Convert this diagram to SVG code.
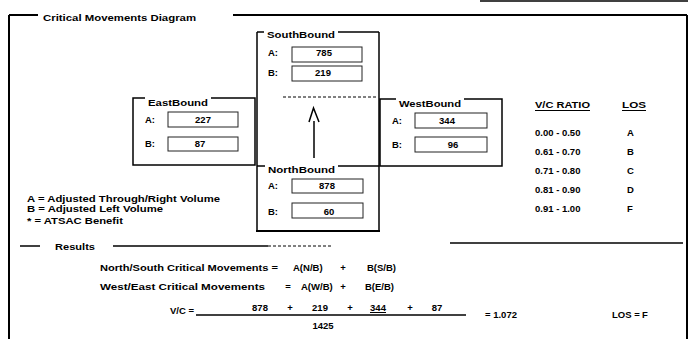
<svg xmlns="http://www.w3.org/2000/svg" width="697" height="339" viewBox="0 0 697 339">
<style>
text{font-family:"Liberation Sans",Arial,sans-serif;font-weight:bold;font-size:9.5px;fill:#000}
.ln{stroke:#000;stroke-width:1.5;fill:none}
.frm{stroke:#000;stroke-width:2;fill:none}
.box{stroke:#222;stroke-width:1;fill:none}
.dash{stroke:#000;stroke-width:1;stroke-dasharray:3 2;fill:none}
.mid{text-anchor:middle}
.bg{fill:#fff}
</style>
<rect width="697" height="339" fill="#fff"/>
<g id="frame">
<line class="frm" x1="9" y1="15" x2="9" y2="339"/>
<line class="frm" x1="9" y1="15" x2="38" y2="15"/>
<line class="frm" x1="233" y1="15" x2="687" y2="15"/>
<line class="frm" x1="687" y1="15" x2="687" y2="339"/>
<line class="ln" x1="480" y1="1" x2="688" y2="1"/>
<text x="43" y="21" textLength="153" lengthAdjust="spacingAndGlyphs">Critical Movements Diagram</text>
</g>
<g id="southbound">
<line class="ln" x1="257" y1="32" x2="379" y2="32"/>
<line class="ln" x1="257" y1="32" x2="257" y2="231"/>
<line class="ln" x1="379" y1="32" x2="379" y2="231"/>
<rect class="bg" x="264" y="29" width="74" height="10"/>
<text x="267" y="38" textLength="68" lengthAdjust="spacingAndGlyphs">SouthBound</text>
<text x="268" y="56">A:</text>
<rect class="box" x="292" y="47" width="70" height="15"/>
<text class="mid" x="324" y="56">785</text>
<text x="268" y="76">B:</text>
<rect class="box" x="292" y="66" width="70" height="15"/>
<text class="mid" x="323" y="76">219</text>
<line class="dash" x1="283" y1="97" x2="378" y2="97"/>
</g>
<g id="eastbound">
<rect class="ln" x="133" y="98" width="122" height="67"/>
<rect class="bg" x="145" y="95" width="66" height="10"/>
<text x="148" y="106" textLength="60" lengthAdjust="spacingAndGlyphs">EastBound</text>
<text x="145" y="123">A:</text>
<rect class="box" x="168" y="112" width="70" height="15"/>
<text class="mid" x="203" y="123">227</text>
<text x="145" y="147">B:</text>
<rect class="box" x="168" y="137" width="70" height="14"/>
<text class="mid" x="200" y="147">87</text>
</g>
<g id="westbound">
<rect class="ln" x="380" y="99" width="122" height="67"/>
<rect class="bg" x="396" y="96" width="68" height="10"/>
<text x="399" y="107" textLength="62" lengthAdjust="spacingAndGlyphs">WestBound</text>
<text x="392" y="124">A:</text>
<rect class="box" x="415" y="113" width="72" height="15"/>
<text class="mid" x="447" y="124">344</text>
<text x="392" y="148">B:</text>
<rect class="box" x="415" y="137" width="72" height="15"/>
<text class="mid" x="453" y="148">96</text>
</g>
<g id="northbound">
<line class="ln" x1="257" y1="166" x2="379" y2="166"/>
<line class="frm" x1="256" y1="231" x2="380" y2="231"/>
<rect class="bg" x="265" y="163" width="73" height="10"/>
<text x="268" y="173" textLength="67" lengthAdjust="spacingAndGlyphs">NorthBound</text>
<text x="268" y="189">A:</text>
<rect class="box" x="292" y="179" width="71" height="14"/>
<text class="mid" x="327" y="189">878</text>
<text x="268" y="215">B:</text>
<rect class="box" x="292" y="203" width="71" height="15"/>
<text class="mid" x="329" y="215">60</text>
</g>
<g id="connectors">
<line class="ln" x1="314" y1="121" x2="314" y2="158"/>
<polyline class="ln" points="309,122 313.5,108 319,122"/>
</g>
<g id="legend">
<text x="27" y="202" textLength="193" lengthAdjust="spacingAndGlyphs">A = Adjusted Through/Right Volume</text>
<text x="27" y="212" textLength="136" lengthAdjust="spacingAndGlyphs">B = Adjusted Left Volume</text>
<text x="27" y="224" textLength="96" lengthAdjust="spacingAndGlyphs">* = ATSAC Benefit</text>
</g>
<g id="vc-table">
<text x="535" y="108" textLength="55" lengthAdjust="spacingAndGlyphs">V/C RATIO</text>
<line stroke="#000" stroke-width="1" x1="535" y1="110.5" x2="590" y2="110.5"/>
<text x="622" y="108" textLength="24" lengthAdjust="spacingAndGlyphs">LOS</text>
<line stroke="#000" stroke-width="1" x1="622" y1="110.5" x2="646" y2="110.5"/>
<text x="535" y="136">0.00 - 0.50</text><text x="627" y="136">A</text>
<text x="535" y="155">0.61 - 0.70</text><text x="627" y="155">B</text>
<text x="535" y="174">0.71 - 0.80</text><text x="627" y="174">C</text>
<text x="535" y="193">0.81 - 0.90</text><text x="627" y="193">D</text>
<text x="535" y="212">0.91 - 1.00</text><text x="627" y="212">F</text>
</g>
<g id="results">
<line class="ln" x1="20" y1="246" x2="40" y2="246"/>
<text x="55" y="250" textLength="40" lengthAdjust="spacingAndGlyphs">Results</text>
<line class="ln" x1="113" y1="246" x2="268" y2="246"/>
<line class="dash" x1="268" y1="246" x2="333" y2="246"/>
<line class="ln" x1="450" y1="243" x2="683" y2="243"/>
<text x="100" y="271" textLength="178" lengthAdjust="spacingAndGlyphs">North/South Critical Movements =</text>
<text x="293" y="271">A(N/B)</text>
<text class="mid" x="343" y="271">+</text>
<text x="367" y="271">B(S/B)</text>
<text x="100" y="290" textLength="165" lengthAdjust="spacingAndGlyphs">West/East Critical Movements</text>
<text class="mid" x="288" y="290">=</text>
<text x="301" y="290">A(W/B)</text>
<text class="mid" x="343" y="290">+</text>
<text x="365" y="290">B(E/B)</text>
<text x="170" y="314">V/C =</text>
<line class="ln" x1="196" y1="315" x2="466" y2="315"/>
<text class="mid" x="260" y="311">878</text>
<text class="mid" x="290" y="311">+</text>
<text class="mid" x="320" y="311">219</text>
<text class="mid" x="350" y="311">+</text>
<text class="mid" x="378" y="311">344</text>
<line stroke="#000" stroke-width="1" x1="370" y1="312.5" x2="386" y2="312.5"/>
<text class="mid" x="410" y="311">+</text>
<text class="mid" x="437" y="311">87</text>
<text class="mid" x="323" y="329">1425</text>
<text x="485" y="318">= 1.072</text>
<text x="612" y="318">LOS =</text>
<text x="642" y="318">F</text>
</g>
</svg>
